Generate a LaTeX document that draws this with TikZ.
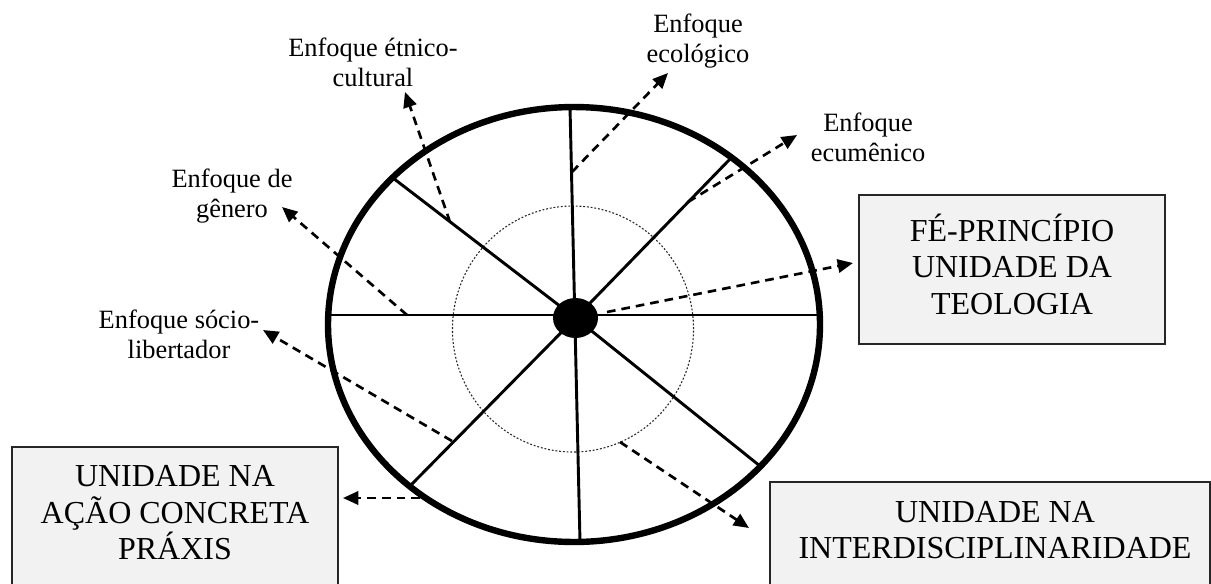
\documentclass[tikz,border=0pt]{standalone}
\usepackage{fontspec}
\setmainfont{Liberation Serif}
\usetikzlibrary{arrows.meta,shapes.geometric}
\definecolor{boxgray}{HTML}{F2F2F2}
\tikzset{
  lbl/.style={align=center,font=\fontsize{19.8pt}{22.5pt}\selectfont,inner sep=0pt},
  boxtext/.style={align=center,font=\fontsize{24pt}{27.4pt}\selectfont,inner sep=0pt},
  graybox/.style={draw=black!85,line width=1.1pt,fill=boxgray,inner sep=0pt},
  spoke/.style={line width=2.2pt},
  arr/.style={line width=2pt,dash pattern=on 6.5pt off 4.5pt,-{Triangle[length=11.5pt,width=10pt]}},
}
\begin{document}
\begin{tikzpicture}[x=0.75pt,y=-0.75pt]
\useasboundingbox (0,0) rectangle (1211,583);
\clip (0,0) rectangle (1211,583);
\fill[white] (0,0) rectangle (1211,583);

% boxes
\node[graybox,minimum width=229.5pt,minimum height=111.75pt] (fe) at (1012,269.5) {};
\node[boxtext] (feT) at (1012,264) {FÉ-PRINCÍPIO\\UNIDADE DA\\TEOLOGIA};
\node[graybox,minimum width=244.5pt,minimum height=122.25pt] (acao) at (175,528.5) {};
\node[boxtext] (acaoT) at (175,513) {UNIDADE NA\\AÇÃO CONCRETA\\PRÁXIS};
\node[graybox,minimum width=330pt,minimum height=96pt] (inter) at (990,546) {};
\node[boxtext] (interT) at (995,530) {UNIDADE NA\\INTERDISCIPLINARIDADE};

% wheel
\coordinate (C) at (574,324.5);
\coordinate (D) at (573,329);
\draw[line width=0.8pt,dash pattern=on 1.4pt off 1.4pt,black!85] (D) ellipse [x radius=90.4pt,y radius=92.25pt];

\coordinate (sT) at (570,107);
\coordinate (sB) at (580,542);
\coordinate (sL) at (329,315);
\coordinate (sR) at (820,315);
\coordinate (sUL) at (393,178);
\coordinate (sUR) at (732,157);
\coordinate (sLL) at (410,486);
\coordinate (sLR) at (760,466);
\coordinate (H) at (575.5,318);

\draw[spoke] (sT) -- (sB);
\draw[spoke] (sL) -- (sR);
\draw[spoke] (sUL) -- (H);
\draw[spoke] (sUR) -- (H);
\draw[spoke] (sLL) -- (H);
\draw[spoke] (sLR) -- (H);
\node[ellipse,fill=black,minimum width=33.75pt,minimum height=30pt,inner sep=0pt] (hub) at (H) {};

\draw[line width=4.8pt] (C) ellipse [x radius=184.5pt,y radius=163.1pt];

% labels
\node[lbl] (lEt) at (373,62.5) {Enfoque étnico-\\cultural};
\node[lbl] (lEc) at (698,41) {Enfoque\\ecológico};
\node[lbl] (lEu) at (868,137) {Enfoque\\ecumênico};
\node[lbl] (lGe) at (232,196) {Enfoque de\\gênero};
\node[lbl] (lSo) at (179,334) {Enfoque sócio-\\libertador};

% arrow endpoints
\coordinate (aEt) at (450,222);
\coordinate (tEt) at (405,92);
\coordinate (aEc) at (572,172);
\coordinate (tEc) at (668,73);
\coordinate (aEu) at (688,202);
\coordinate (tEu) at (797,135);
\coordinate (aGe) at (407,315);
\coordinate (tGe) at (282,207);
\coordinate (aSo) at (452,441);
\coordinate (tSo) at (263,330);
\coordinate (aFe) at (607,312);
\coordinate (tFe) at (853,263);
\coordinate (aAc) at (420,498);
\coordinate (tAc) at (343,498);
\coordinate (aIn) at (620,442);
\coordinate (tIn) at (749,528);

\draw[arr] (aEt) -- (tEt);
\draw[arr] (aEc) -- (tEc);
\draw[arr] (aEu) -- (tEu);
\draw[arr] (aGe) -- (tGe);
\draw[arr] (aSo) -- (tSo);
\draw[arr] (aFe) -- (tFe);
\draw[arr] (aAc) -- (tAc);
\draw[arr] (aIn) -- (tIn);
\end{tikzpicture}
\end{document}
